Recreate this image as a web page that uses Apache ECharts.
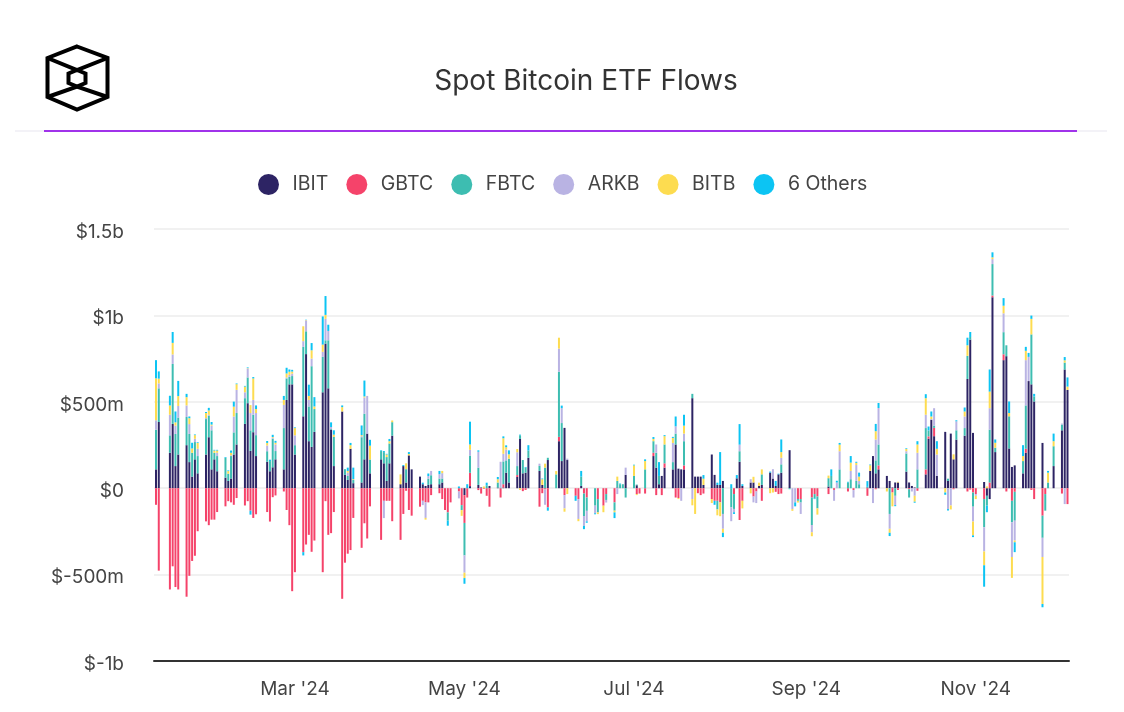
<!DOCTYPE html>
<html>
<head>
<meta charset="utf-8">
<title>Spot Bitcoin ETF Flows</title>
<script src="https://cdn.jsdelivr.net/npm/echarts@6/dist/echarts.min.js"></script>
<style>
  html, body { margin: 0; padding: 0; background: #fff; }
  #chart { width: 1124px; height: 712px; }
</style>
</head>
<body>
<div id="chart"></div>
<script>
// Trading days, Jan 11 to Dec 4 2024
const firstDay = "2024-01-11";
const lastDay = "2024-12-04";
const closedDays = ["2024-01-15", "2024-02-19", "2024-03-29", "2024-05-27", "2024-06-19", "2024-07-04", "2024-09-02", "2024-11-28"];

const seriesNames = ["IBIT", "GBTC", "FBTC", "ARKB", "BITB", "6 Others"];
const seriesColors = ["#2d2464", "#f5436a", "#3dbdb1", "#b9b3e3", "#fddc50", "#0cc4f3"];
const monthTicks = ["2024-03-01", "2024-05-01", "2024-07-01", "2024-09-01", "2024-11-01"];

// Daily flows in $m. One line per trading week.
const ibit = [
  109,383,
  205,372,128,195,
  249,151,67,167,86,
  195,295,109,167,98,
  61,42,56,195,253,
  372,492,216,324,186,
  153,98,121,167,
  109,511,601,601,195,
  416,776,272,239,326,
  555,837,578,339,128,
  444,77,48,228,29,
  33,167,316,86,
  167,144,42,144,304,
  23,128,33,190,109,
  67,23,13,19,23,
  23,33,0,0,0,
  0,0,-40,0,12,
  19,4,0,0,13,
  4,0,4,90,33,
  65,285,86,90,176,
  100,19,0,163,
  0,272,157,349,163,
  0,0,13,-2,0,
  0,0,0,0,
  0,4,0,0,77,
  0,17,0,0,
  186,119,23,71,119,
  109,253,113,109,109,
  521,67,67,67,19,
  195,77,19,19,42,
  0,0,57,153,13,
  33,33,0,13,19,
  90,56,13,80,90,
  220,0,0,0,0,
  0,0,0,0,
  10,0,0,0,0,
  0,0,0,0,0,
  4,100,186,86,109,
  71,42,4,33,33,
  96,33,13,4,0,
  80,287,396,301,71,
  326,42,316,167,281,
  304,632,860,320,0,
  36,-44,-63,1105,209,
  741,764,230,123,132,
  86,205,620,601,502,
  262,0,0,128,
  335,687,569
];
const gbtc = [
  -96,-477,
  -586,-452,-572,-586,
  -628,-507,-421,-391,-249,
  -192,-214,-182,-182,-138,
  -105,-75,-82,-96,-57,
  -100,-75,-130,-172,-151,
  -138,-193,-52,-42,
  -19,-126,-214,-596,-486,
  -370,-326,-270,-368,-303,
  -486,-75,-270,-260,-138,
  -640,-431,-379,-358,-172,
  -345,-203,-291,-105,
  -299,-73,-73,-73,-191,
  -299,-149,-15,-126,-159,
  -107,-73,-82,-82,-40,
  -29,-63,-126,-140,-82,
  -19,-98,-161,-54,77,
  -11,-31,-4,-44,-107,
  0,-54,19,0,0,
  11,0,-17,-10,0,
  -107,-29,-6,-111,
  0,25,0,-40,0,
  -44,-63,0,-29,-54,
  0,-63,-101,-34,
  -82,0,0,0,0,
  0,-34,-31,-31,
  19,-40,0,-40,25,
  0,-54,-57,0,23,
  0,0,-29,-40,-31,
  -63,-73,-73,-82,0,
  0,-34,0,-184,-73,
  0,-48,-19,0,-73,
  0,0,-21,-34,-31,
  0,0,0,-63,-63,
  -54,-34,-48,0,
  -34,0,-10,0,0,
  -19,0,-11,0,0,
  -44,0,0,-6,23,
  0,0,-25,0,-10,
  0,-6,0,0,-15,
  29,13,0,48,0,
  0,0,0,-6,0,
  0,-19,-8,-25,-34,
  -63,0,33,10,0,
  34,-19,0,-73,-21,
  0,23,0,-10,-63,
  -159,-34,0,0,
  -31,0,-92
];
const fbtc = [
  230,195,
  101,347,186,214,
  163,163,138,100,100,
  205,124,226,38,88,
  115,42,130,128,182,
  149,149,119,101,121,
  61,59,165,48,
  239,124,44,48,54,
  402,132,201,467,132,
  205,19,278,4,169,
  0,33,23,0,19,
  262,264,0,80,
  48,65,138,115,78,
  0,0,77,0,0,
  0,0,0,36,52,
  33,23,0,-48,0,
  0,-29,-188,0,100,
  100,0,0,17,0,
  29,4,132,71,138,
  52,21,77,29,42,
  29,0,119,13,
  80,377,220,0,0,
  0,0,54,-130,-77,
  -101,-77,0,-34,
  -48,38,23,23,-54,
  71,4,0,109,
  67,86,48,0,109,
  42,63,0,0,140,
  25,0,0,0,0,
  0,0,-50,0,-149,
  -111,-86,0,61,0,
  0,0,0,0,61,
  0,0,0,0,48,
  -6,0,0,-10,-20,
  -159,-25,-69,0,
  48,71,0,0,109,
  33,52,0,42,23,
  4,0,0,75,121,
  0,-149,0,-44,0,
  105,-48,0,0,109,
  239,34,0,13,0,
  0,13,0,0,54,
  44,134,15,-82,0,
  -163,-57,306,182,25,
  128,63,186,-124,-167,
  71,251,0,289,29,
  -128,-96,33,115,
  33,40,0
];
const arkb = [
  54,29,
  119,55,48,67,
  67,57,0,19,42,
  6,6,27,0,19,
  0,0,4,92,134,
  34,52,100,86,128,
  33,0,6,38,
  134,6,10,14,57,
  33,63,38,44,0,
  29,124,54,11,0,
  0,0,19,0,0,
  6,94,218,0,
  0,-100,0,0,0,
  0,0,0,0,0,
  0,-25,-90,15,25,
  25,31,0,0,0,
  -40,0,-100,0,33,
  92,0,0,0,0,
  0,149,44,63,0,
  80,0,0,0,0,
  13,0,-90,0,
  0,134,86,-77,8,
  0,-115,0,-57,-61,
  -44,0,0,-15,
  0,-34,0,0,42,
  0,0,0,0,
  0,48,0,0,0,
  111,42,0,-73,44,
  -63,0,0,0,0,
  0,0,0,0,-86,
  -80,-19,0,38,0,
  19,-34,-67,0,0,
  0,54,0,0,38,
  0,-121,-82,0,-66,
  -42,0,0,0,
  0,0,-63,33,105,
  0,48,-43,92,19,
  0,0,-86,121,211,
  0,-86,0,-54,0,
  13,0,-19,-44,96,
  77,0,4,101,124,
  0,-121,-100,0,52,
  67,0,0,-86,-10,
  -140,0,124,29,0,
  109,0,0,-201,-115,
  0,262,140,0,0,
  -111,0,0,0,
  6,-92,0
];
const bitb = [
  243,27,
  54,67,19,57,
  48,34,25,21,34,
  29,25,6,13,13,
  0,15,15,57,33,
  33,2,46,124,23,
  15,0,4,10,
  29,23,19,12,42,
  86,2,23,48,15,
  42,23,0,0,13,
  25,0,10,21,4,
  6,6,0,80,
  0,0,15,13,10,
  57,0,34,8,0,
  0,0,-10,0,0,
  0,13,0,0,0,
  0,-33,-31,0,31,
  0,0,10,0,0,
  19,0,90,13,25,
  19,-10,0,0,0,
  0,33,23,0,
  19,63,0,-19,-34,
  0,-13,0,0,0,
  0,-10,-38,0,
  -10,25,0,0,0,
  61,-6,0,48,
  13,0,0,0,48,
  29,0,-6,0,46,
  -36,-149,0,0,36,
  -23,0,-34,-80,-23,
  0,0,0,0,-44,
  -30,33,0,19,29,
  -29,-25,0,0,33,
  0,-10,0,-10,0,
  -23,0,-36,0,
  15,0,0,0,38,
  0,48,0,13,25,
  0,33,0,48,0,
  -19,-23,-80,0,4,
  13,0,0,-34,48,
  96,0,15,0,33,
  -25,0,-23,29,0,
  29,61,0,-80,-19,
  -80,10,96,10,29,
  44,0,19,-121,-10,
  29,54,0,90,0,
  -272,0,57,29,
  0,13,19
];
const others = [
  105,42,
  56,63,63,88,
  19,10,33,4,4,
  6,15,15,4,4,
  4,4,13,29,4,
  4,4,-23,8,21,
  11,8,13,11,
  23,33,13,10,4,
  -19,2,65,42,54,
  163,109,36,27,25,
  10,0,19,13,67,
  56,92,0,34,
  4,6,4,13,0,
  0,6,0,11,0,
  0,9,0,15,0,
  19,0,0,-29,0,
  10,0,-33,23,132,
  8,0,0,15,0,
  13,0,11,11,23,
  0,4,0,4,31,
  0,4,0,-19,
  0,0,15,0,0,
  -29,0,33,-19,-8,
  -6,0,0,0,
  -33,0,4,0,0,
  4,0,0,10,
  11,0,80,0,6,
  6,57,0,0,63,
  0,0,0,0,21,
  0,-23,13,190,-25,
  23,-10,19,119,10,
  0,0,0,0,0,
  6,0,29,4,73,
  0,0,-23,0,0,
  0,-4,0,0,
  0,38,0,10,10,
  4,38,0,6,23,
  33,4,0,42,29,
  0,-19,0,-6,0,
  4,0,0,-6,19,
  23,23,29,0,44,
  -13,-8,0,0,6,
  23,44,29,-10,0,
  -124,-38,128,29,19,
  44,0,67,0,-57,
  63,23,23,19,15,
  -19,0,10,44,
  0,19,53
];
const seriesValues = [ibit, gbtc, fbtc, arkb, bitb, others];

// -----------------------------------------------------------------------------
// Helpers
// -----------------------------------------------------------------------------
const toTime = (day) => +echarts.time.parse(day);

const buildTradingDays = () => {
  const days = [];
  const end = toTime(lastDay);
  for (let d = new Date(toTime(firstDay)); +d <= end; d.setDate(d.getDate() + 1)) {
    const day = echarts.time.format(d, "{yyyy}-{MM}-{dd}");
    if (d.getDay() !== 0 && d.getDay() !== 6 && !closedDays.includes(day)) days.push(day);
  }
  return days;
};

const formatMoney = (value) => {
  if (value === 0) return "$0";
  return Math.abs(value) >= 1000 ? `$${value / 1000}b` : `$${value}m`;
};

const tradingDays = buildTradingDays();
const dayWidth = 24 * 3600 * 1000;
const inkColor = "#444444";
const font = "Inter";

// -----------------------------------------------------------------------------
// Chart
// -----------------------------------------------------------------------------
const myChart = echarts.init(document.getElementById("chart"), null, { renderer: "canvas" });

myChart.setOption({
  backgroundColor: "#ffffff",
  animation: false,
  title: {
    text: "Spot Bitcoin ETF Flows",
    left: 581,
    top: 63,
    textAlign: "center",
    textStyle: { fontFamily: font, fontSize: 28, fontWeight: 400, color: "#333333" },
  },
  legend: {
    data: seriesNames,
    top: 169,
    left: 253,
    icon: "circle",
    itemWidth: 22,
    itemHeight: 21,
    itemGap: 18,
    textStyle: { fontFamily: font, fontSize: 19.5, color: inkColor, padding: [0, 0, 0, 8] },
  },
  grid: { left: 154, right: 55, top: 229, bottom: 51 },
  xAxis: {
    type: "time",
    min: toTime(firstDay) - dayWidth * 0.36,
    max: toTime(lastDay) + dayWidth * 0.18,
    axisLine: { onZero: false, lineStyle: { color: "#333333", width: 2 } },
    axisTick: { show: false },
    splitLine: { show: false },
    axisLabel: {
      customValues: monthTicks.map(toTime),
      formatter: "{MMM} '{yy}",
      fontFamily: font,
      fontSize: 19,
      color: inkColor,
      margin: 19,
      showMinLabel: false,
      showMaxLabel: false,
    },
  },
  yAxis: {
    type: "value",
    min: -1000,
    max: 1500,
    interval: 500,
    axisLine: { show: false },
    axisTick: { show: false },
    splitLine: { lineStyle: { color: "#f1f1f1", width: 2 } },
    axisLabel: {
      formatter: formatMoney,
      fontFamily: font,
      fontSize: 19,
      color: inkColor,
      margin: 30,
      // a short line box hung from the tick sets the text a little under the grid line
      verticalAlign: "top",
      lineHeight: 6,
    },
  },
  series: seriesNames.map((name, i) => ({
    name,
    type: "bar",
    stack: "flows",
    barWidth: 2,
    itemStyle: { color: seriesColors[i] },
    data: tradingDays.map((day, j) => [day, seriesValues[i][j]]),
  })),
  graphic: [
    // header rules
    { type: "line", silent: true, shape: { x1: 15, y1: 131, x2: 1107, y2: 131 }, style: { stroke: "#f3f2f7", lineWidth: 2 } },
    { type: "line", silent: true, shape: { x1: 44, y1: 131, x2: 1077, y2: 131 }, style: { stroke: "#a033ea", lineWidth: 2 } },
    // logo
    { type: "polygon", silent: true, shape: { points: [[77, 46.5], [107.5, 58], [107.5, 97], [77, 109.5], [47.5, 97], [47.5, 58]] }, style: { fill: null, stroke: "#000", lineWidth: 4 } },
    { type: "polygon", silent: true, shape: { points: [[77, 70], [85.5, 73.5], [85.5, 83], [77, 86.5], [68.5, 83], [68.5, 73.5]] }, style: { fill: null, stroke: "#000", lineWidth: 4 } },
    { type: "polyline", silent: true, shape: { points: [[47.5, 58], [77, 70], [107.5, 58]] }, style: { stroke: "#000", lineWidth: 4 } },
    { type: "polyline", silent: true, shape: { points: [[47.5, 97], [77, 86.5], [107.5, 97]] }, style: { stroke: "#000", lineWidth: 4 } },
  ],
});

window.addEventListener("resize", () => myChart.resize());
</script>
</body>
</html>
